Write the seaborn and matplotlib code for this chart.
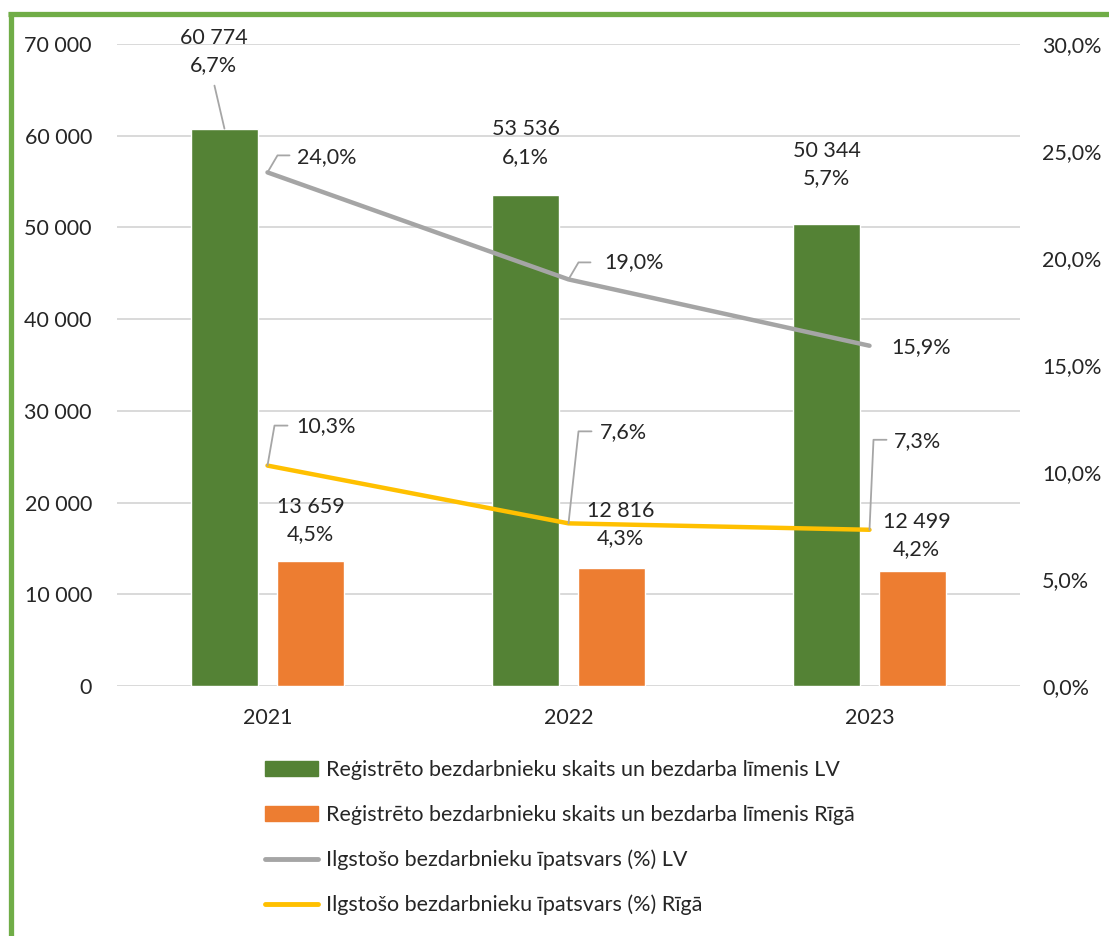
import numpy as np
import matplotlib
matplotlib.use("Agg")
import matplotlib.pyplot as plt
import matplotlib.transforms as mtransforms
from matplotlib.lines import Line2D
from matplotlib.patches import Patch
import seaborn as sns
import pandas as pd

# data
years = ["2021", "2022", "2023"]
lv_count = [60774, 53536, 50344]
lv_rate = [6.7, 6.1, 5.7]
riga_count = [13659, 12816, 12499]
riga_rate = [4.5, 4.3, 4.2]
lv_longterm = [24.0, 19.0, 15.9]
riga_longterm = [10.3, 7.6, 7.3]

labels = ["Reģistrēto bezdarbnieku skaits un bezdarba līmenis LV",
          "Reģistrēto bezdarbnieku skaits un bezdarba līmenis Rīgā",
          "Ilgstošo bezdarbnieku īpatsvars (%) LV",
          "Ilgstošo bezdarbnieku īpatsvars (%) Rīgā"]

GREEN = "#548235"
ORANGE = "#ED7D31"
GRAY = "#A5A5A5"
YELLOW = "#FFC000"
FRAME = "#70AD47"
FS = 15.5

sns.set_style("white")
plt.rcParams["font.family"] = ["Lato", "DejaVu Sans"]

rows = []
for i, y in enumerate(years):
    rows.append([y, labels[0], lv_count[i]])
    rows.append([y, labels[1], riga_count[i]])
df = pd.DataFrame(rows, columns=["year", "series", "count"])

fig = plt.figure(figsize=(11.09, 9.36), dpi=100)
ax = fig.add_axes([117 / 1109, 1 - 686 / 936, 903 / 1109, 642 / 936])

sns.barplot(data=df, x="year", y="count", hue="series", palette=[GREEN, ORANGE],
            width=0.572, gap=0.23, saturation=1, legend=False, ax=ax)
ax.set_ylim(0, 70000)
ax.set_yticks(np.arange(0, 70001, 10000))
ax.set_yticklabels([f"{int(v):,}".replace(",", " ") for v in ax.get_yticks()])
ax.set_axisbelow(True)
ax.yaxis.grid(True, color="#D9D9D9", linewidth=1.4)
ax.set_xlabel("")
ax.set_ylabel("")
ax.tick_params(axis="y", length=0, pad=18, labelsize=FS)
ax.tick_params(axis="x", length=0, pad=16, labelsize=FS)
for s in ax.spines.values():
    s.set_visible(False)

ax2 = ax.twinx()
xs = np.arange(len(years))
sns.lineplot(x=xs, y=lv_longterm, color=GRAY, linewidth=3.2, ax=ax2)
sns.lineplot(x=xs, y=riga_longterm, color=YELLOW, linewidth=3.2, ax=ax2)
ax2.set_ylim(0, 30)
ax2.set_yticks(np.arange(0, 30.1, 5))
ax2.set_yticklabels([f"{v:.1f}%".replace(".", ",") for v in ax2.get_yticks()])
ax2.tick_params(axis="y", length=0, pad=16, labelsize=FS)
ax2.set_ylabel("")
for s in ax2.spines.values():
    s.set_visible(False)
ax.set_xlim(-0.5, 2.5)


def leader(axis, x, y, pts):
    # polyline given as pixel offsets from a data point
    tr = mtransforms.ScaledTranslation(x, y, axis.transData)
    px = [p[0] for p in pts]
    py = [p[1] for p in pts]
    axis.add_line(Line2D(px, py, transform=tr, color="#A6A6A6", lw=1.3, clip_on=False))


def fmt_pct(v):
    return f"{v:.1f}%".replace(".", ",")


# bar labels (offsets in pixels from the bar top centre)
bar_offsets = [[(-11, 77), (0, 52), (0, 60)], [(0, 40), (9, 44), (4, 36)]]
counts = [lv_count, riga_count]
rates = [lv_rate, riga_rate]
for k, cont in enumerate(ax.containers):
    for i, bar in enumerate(cont):
        cx = bar.get_x() + bar.get_width() / 2
        top = bar.get_height()
        dx, dy = bar_offsets[k][i]
        txt = f"{counts[k][i]:,}".replace(",", " ") + "\n" + fmt_pct(rates[k][i])
        ax.annotate(txt, (cx, top), xytext=(dx, dy), textcoords="offset pixels",
                    ha="center", va="center", fontsize=FS, linespacing=1.45)
leader(ax, ax.containers[0][0].get_x() + ax.containers[0][0].get_width() / 2,
       lv_count[0], [(0, 0), (-10, 43)])

# line labels: (text offset, leader polyline or None)
line_layout = [
    [((30, 15), [(0, 0), (10, 17), (22, 17)]),
     ((36, 17), [(0, 0), (10, 17), (22, 17)]),
     ((22, -1), None)],
    [((29, 39), [(0, 0), (7, 40), (20, 40)]),
     ((31, 91), [(0, 0), (10, 92), (23, 92)]),
     ((24, 89), [(0, 0), (4, 90), (17, 90)])],
]
for k, vals in enumerate([lv_longterm, riga_longterm]):
    for i, v in enumerate(vals):
        (dx, dy), pts = line_layout[k][i]
        ax2.annotate(fmt_pct(v), (xs[i], v), xytext=(dx, dy), textcoords="offset pixels",
                     ha="left", va="center", fontsize=FS)
        if pts:
            leader(ax2, xs[i], v, pts)

handles = [Patch(color=GREEN), Patch(color=ORANGE),
           Line2D([], [], color=GRAY, lw=3.5), Line2D([], [], color=YELLOW, lw=3.5)]
fig.legend(handles, labels, loc="upper left", bbox_to_anchor=(265 / 1109, 1 - 760 / 936),
           frameon=False, fontsize=FS, handlelength=2.45, handleheight=0.7,
           handletextpad=0.4, labelspacing=1.15, borderpad=0, borderaxespad=0)

# green frame on top and left
fig.add_artist(Line2D([8 / 1109, 1], [1 - 13.5 / 936] * 2, transform=fig.transFigure,
                      color=FRAME, lw=3.8, solid_capstyle="butt"))
fig.add_artist(Line2D([10.5 / 1109] * 2, [0, 1 - 11.5 / 936], transform=fig.transFigure,
                      color=FRAME, lw=3.8, solid_capstyle="butt"))

fig.savefig("out.png", dpi=100)
